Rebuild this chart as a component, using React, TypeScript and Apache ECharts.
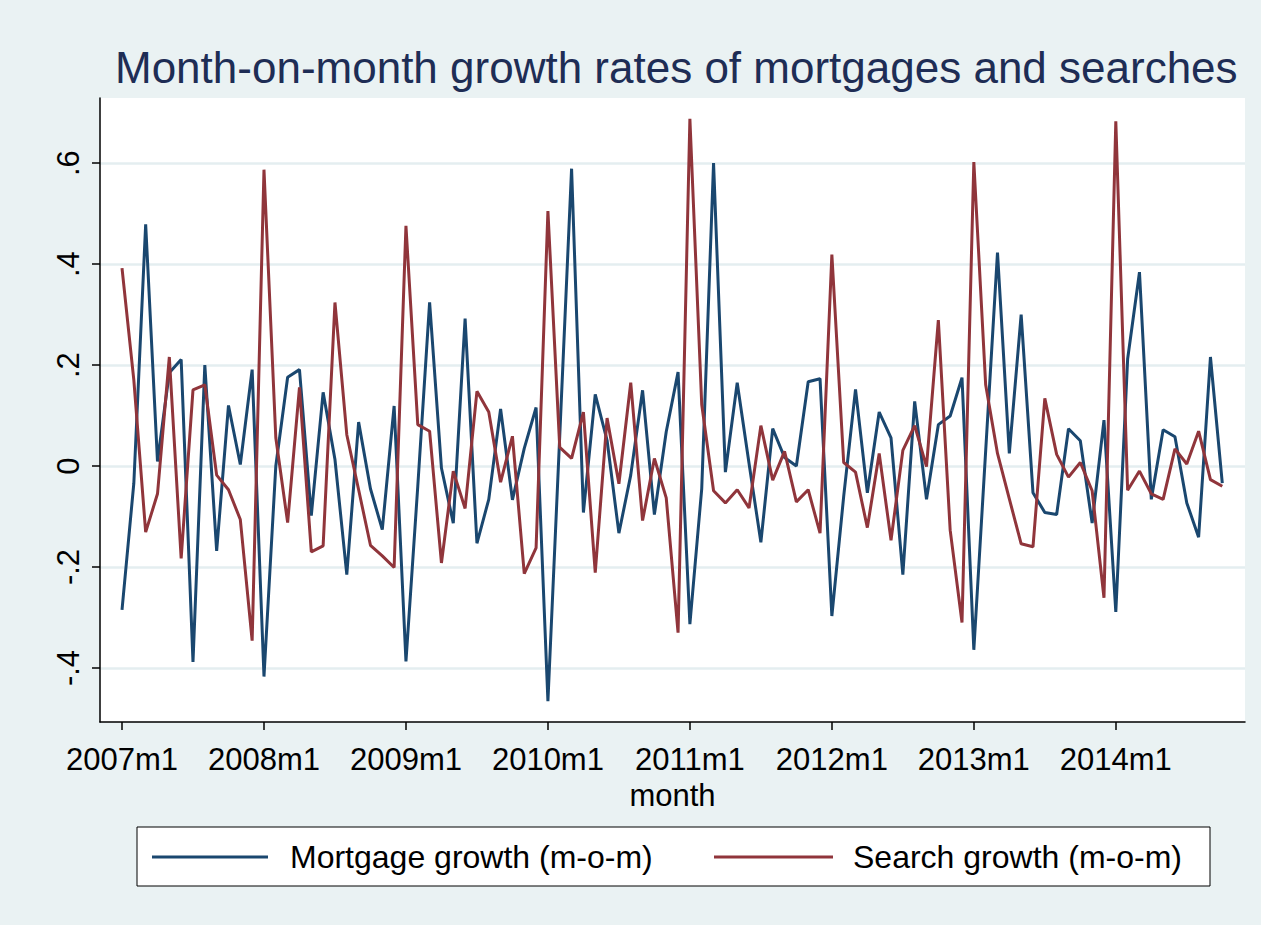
import React, { useEffect, useRef } from "react";
import * as echarts from "echarts";

const startYear = 2007;

const mortgageGrowth = [
  -0.285, -0.034, 0.479, 0.009, 0.185, 0.211, -0.388, 0.2, -0.168, 0.12, 0.003, 0.191,
  -0.417, 0.0, 0.176, 0.191, -0.098, 0.146, 0.013, -0.215, 0.087, -0.045, -0.126, 0.119,
  -0.387, -0.04, 0.324, -0.004, -0.113, 0.292, -0.153, -0.066, 0.113, -0.067, 0.035, 0.116,
  -0.466, 0.06, 0.589, -0.092, 0.142, 0.051, -0.133, -0.018, 0.15, -0.096, 0.068, 0.186,
  -0.313, -0.045, 0.6, -0.012, 0.165, 0.005, -0.151, 0.074, 0.017, 0.0, 0.167, 0.173,
  -0.297, -0.06, 0.152, -0.053, 0.107, 0.056, -0.215, 0.128, -0.066, 0.082, 0.099, 0.175,
  -0.364, 0.03, 0.423, 0.025, 0.3, -0.053, -0.092, -0.096, 0.074, 0.05, -0.113, 0.091,
  -0.289, 0.212, 0.384, -0.066, 0.072, 0.058, -0.073, -0.141, 0.216, -0.034,
];

const searchGrowth = [
  0.392, 0.17, -0.131, -0.055, 0.216, -0.183, 0.151, 0.161, -0.018, -0.047, -0.106, -0.346,
  0.587, 0.056, -0.112, 0.156, -0.17, -0.158, 0.324, 0.062, -0.047, -0.157, -0.178, -0.201,
  0.476, 0.082, 0.069, -0.192, -0.01, -0.084, 0.148, 0.107, -0.032, 0.059, -0.213, -0.162,
  0.505, 0.037, 0.015, 0.107, -0.211, 0.095, -0.035, 0.165, -0.108, 0.015, -0.063, -0.33,
  0.688, 0.122, -0.049, -0.073, -0.047, -0.083, 0.08, -0.028, 0.029, -0.071, -0.047, -0.133,
  0.419, 0.007, -0.012, -0.122, 0.025, -0.147, 0.031, 0.08, -0.001, 0.289, -0.127, -0.31,
  0.602, 0.161, 0.025, -0.065, -0.154, -0.16, 0.134, 0.023, -0.022, 0.007, -0.049, -0.261,
  0.683, -0.048, -0.01, -0.055, -0.066, 0.034, 0.004, 0.069, -0.027, -0.04,
];

const seriesNames = ["Mortgage growth (m-o-m)", "Search growth (m-o-m)"];
const xTickValues = [0, 12, 24, 36, 48, 60, 72, 84];
const yTickValues = [-0.4, -0.2, 0, 0.2, 0.4, 0.6];
const yTickLabels = ["-.4", "-.2", "0", ".2", ".4", ".6"];

const monthLabel = (i: number) => `${startYear + Math.floor(i / 12)}m${(i % 12) + 1}`;

const BLUE = "#1A476F";
const RED = "#90353B";
const BG = "#EAF2F3";
const FONT = "Liberation Sans, Arial, sans-serif";

export default function App() {
  const ref = useRef<HTMLDivElement>(null);
  useEffect(() => {
    if (!ref.current) return;
    const chart = echarts.init(ref.current, undefined, { renderer: "svg" });
    const mData = mortgageGrowth.map((v, i) => [i, v]);
    const sData = searchGrowth.map((v, i) => [i, v]);
    const legendY = 857;
    chart.setOption({
      animation: false,
      backgroundColor: BG,
      textStyle: { fontFamily: FONT },
      title: {
        text: "Month-on-month growth rates of mortgages and searches",
        left: 110,
        top: 40,
        textStyle: { fontFamily: FONT, fontSize: 44, fontWeight: "normal", color: "#1E2D55" },
      },
      grid: {
        left: 100,
        right: 16,
        top: 98,
        bottom: 203,
        show: true,
        backgroundColor: "#FFFFFF",
        borderWidth: 0,
      },
      graphic: [
        {
          type: "rect",
          shape: { x: 137, y: 827, width: 1073, height: 59 },
          style: { fill: "#FFFFFF", stroke: "#000000", lineWidth: 1 },
        },
        {
          type: "line",
          shape: { x1: 152, y1: legendY, x2: 268, y2: legendY },
          style: { stroke: BLUE, lineWidth: 3 },
        },
        {
          type: "text",
          x: 290,
          y: legendY,
          style: {
            text: seriesNames[0],
            fontFamily: FONT,
            fontSize: 32,
            fill: "#000",
            verticalAlign: "middle",
            textAlign: "left",
          },
        },
        {
          type: "line",
          shape: { x1: 714, y1: legendY, x2: 833, y2: legendY },
          style: { stroke: RED, lineWidth: 3 },
        },
        {
          type: "text",
          x: 853,
          y: legendY,
          style: {
            text: seriesNames[1],
            fontFamily: FONT,
            fontSize: 32,
            fill: "#000",
            verticalAlign: "middle",
            textAlign: "left",
          },
        },
      ],
      xAxis: {
        type: "value",
        min: -1.86,
        max: 94.92,
        name: "month",
        nameLocation: "middle",
        nameGap: 56,
        nameTextStyle: { fontFamily: FONT, fontSize: 31, color: "#000" },
        axisLine: { show: true, onZero: false, lineStyle: { color: "#000", width: 1.5 } },
        axisTick: { show: true, customValues: xTickValues, length: 8, lineStyle: { color: "#000", width: 1.5 } },
        axisLabel: {
          customValues: xTickValues,
          formatter: (v: number) => monthLabel(Math.round(v)),
          fontFamily: FONT,
          fontSize: 31,
          color: "#000",
          margin: 22,
        },
        splitLine: { show: false },
      },
      yAxis: {
        type: "value",
        min: -0.507,
        max: 0.729,
        axisLine: { show: true, onZero: false, lineStyle: { color: "#000", width: 1.5 } },
        axisTick: { show: true, customValues: yTickValues, length: 8, lineStyle: { color: "#000", width: 1.5 } },
        axisLabel: {
          customValues: yTickValues,
          formatter: (v: number) => {
            const idx = yTickValues.findIndex((t) => Math.abs(t - v) < 1e-6);
            return idx >= 0 ? yTickLabels[idx] : "";
          },
          rotate: 90,
          fontFamily: FONT,
          fontSize: 31,
          color: "#000",
          margin: 16,
        },
        splitLine: { show: true, lineStyle: { color: "#E4EEF0", width: 2.5 } },
      },
      series: [
        {
          name: seriesNames[0],
          type: "line",
          data: mData,
          symbol: "none",
          lineStyle: { color: BLUE, width: 3 },
          itemStyle: { color: BLUE },
        },
        {
          name: seriesNames[1],
          type: "line",
          data: sData,
          symbol: "none",
          lineStyle: { color: RED, width: 3 },
          itemStyle: { color: RED },
        },
      ],
    });
    return () => chart.dispose();
  }, []);
  return (
    <div
      ref={ref}
      style={{ position: "fixed", left: 0, top: 0, width: 1261, height: 925 }}
    />
  );
}
